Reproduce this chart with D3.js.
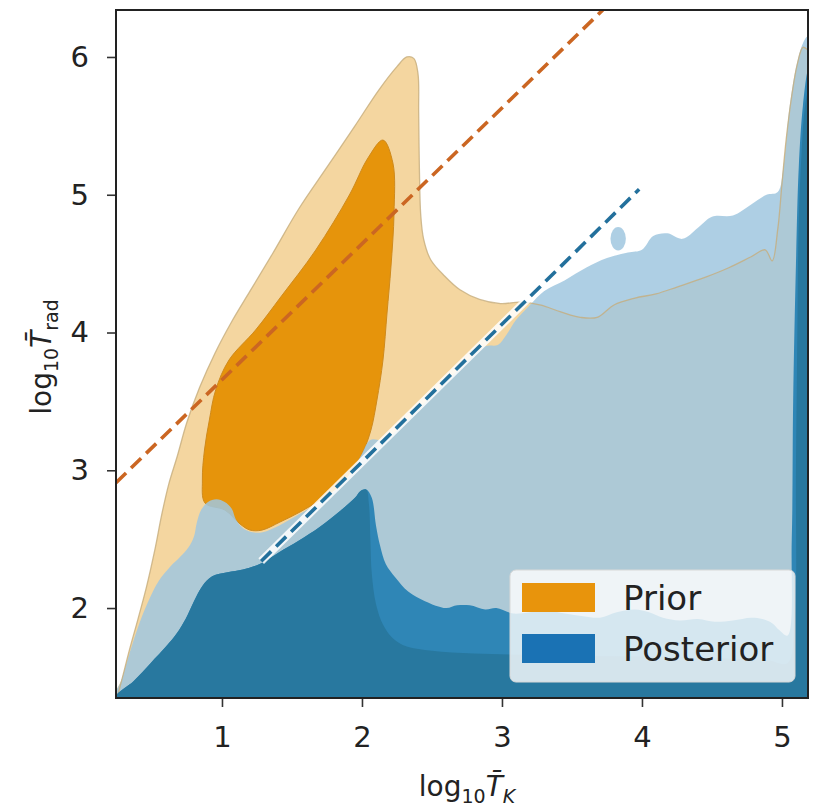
<!DOCTYPE html>
<html>
<head>
<meta charset="utf-8">
<script src="https://cdn.jsdelivr.net/npm/d3@7"></script>
<style>
  html, body { margin: 0; padding: 0; background: #ffffff; }
  svg { display: block; }
  text { font-family: "DejaVu Sans", sans-serif; }
</style>
</head>
<body>
<svg id="chart" width="818" height="806"></svg>
<script>
// Axis ranges and ticks (log10 of kinetic and radiation temperatures)
const xDomain = [0.243, 5.186];
const yDomain = [1.347, 6.341];
const xTicks = [1, 2, 3, 4, 5];
const yTicks = [2, 3, 4, 5, 6];

// Prior: outer (95%) and inner (68%) credible contours, as [log10 T_K, log10 T_rad]
const priorOuter = [
  [0.25,1.347],[0.29,1.5],[0.34,1.7],[0.4,1.92],[0.46,2.15],[0.52,2.42],[0.57,2.68],[0.62,2.9],
  [0.68,3.1],[0.75,3.35],[0.84,3.6],[0.95,3.85],[1.07,4.08],[1.2,4.3],[1.36,4.57],[1.55,4.9],
  [1.75,5.2],[1.95,5.5],[2.12,5.76],[2.25,5.93],[2.32,6.0],[2.37,5.99],[2.4,5.88],[2.405,5.6],
  [2.41,5.2],[2.42,4.85],[2.44,4.68],[2.49,4.53],[2.59,4.41],[2.7,4.31],[2.84,4.24],[2.99,4.21],
  [3.13,4.22],[3.27,4.2],[3.42,4.15],[3.56,4.11],[3.68,4.11],[3.8,4.2],[3.95,4.25],[4.1,4.28],
  [4.25,4.33],[4.45,4.4],[4.62,4.47],[4.78,4.55],[4.88,4.6],[4.93,4.52],[4.97,4.75],[5.0,5.08],
  [5.03,5.4],[5.07,5.72],[5.11,5.95],[5.15,6.07],[5.186,6.05],[5.186,1.347]
];
const priorInner = [
  [2.15,5.397],[2.221,5.23],[2.229,4.868],[2.207,4.476],[2.179,4.142],[2.15,3.8],[2.107,3.51],
  [2.064,3.292],[2.007,3.133],[1.929,3.002],[1.843,2.893],[1.7,2.784],[1.557,2.697],[1.414,2.624],
  [1.286,2.566],[1.2,2.566],[1.129,2.61],[1.021,2.711],[0.879,2.762],[0.86,2.929],[0.875,3.147],
  [0.91,3.365],[0.955,3.583],[1.05,3.8],[1.24,4.018],[1.42,4.258],[1.67,4.599],[1.91,4.998],
  [2.043,5.267]
];

// Posterior: outer (95%) contour, a detached island, inner (68%) contour and its densest core
const posteriorOuter = [
  [0.243,1.347],[0.28,1.47],[0.33,1.64],[0.4,1.86],[0.47,2.04],[0.55,2.2],[0.63,2.3],[0.7,2.37],
  [0.76,2.44],[0.8,2.52],[0.82,2.62],[0.85,2.71],[0.9,2.77],[0.96,2.79],[1.02,2.77],[1.07,2.72],
  [1.1,2.64],[1.15,2.58],[1.22,2.55],[1.29,2.55],[1.41,2.6],[1.55,2.68],[1.7,2.77],[1.84,2.88],
  [1.93,2.99],[2.0,3.12],[2.06,3.22],[2.16,3.22],[2.3,3.34],[2.45,3.49],[2.6,3.64],[2.75,3.79],
  [2.88,3.9],[2.97,3.91],[3.03,3.98],[3.1,4.09],[3.2,4.2],[3.3,4.3],[3.45,4.38],[3.6,4.47],
  [3.75,4.54],[3.9,4.58],[4.0,4.6],[4.08,4.7],[4.18,4.72],[4.29,4.68],[4.4,4.76],[4.5,4.84],
  [4.65,4.85],[4.78,4.93],[4.89,5.0],[4.97,5.02],[5.01,5.2],[5.05,5.6],[5.1,5.92],[5.15,6.1],
  [5.186,6.15],[5.186,1.347]
];
const posteriorIsland = { x: 3.83, y: 4.68, rx: 0.055, ry: 0.085 };
const posteriorInner = [
  [0.243,1.347],[0.37,1.47],[0.49,1.6],[0.6,1.72],[0.68,1.82],[0.74,1.92],[0.8,2.05],[0.86,2.16],
  [0.93,2.23],[1.04,2.26],[1.15,2.28],[1.27,2.32],[1.4,2.4],[1.55,2.49],[1.7,2.59],[1.85,2.71],
  [1.95,2.8],[1.99,2.85],[2.03,2.86],[2.07,2.8],[2.1,2.6],[2.13,2.45],[2.17,2.32],[2.24,2.22],
  [2.33,2.12],[2.45,2.05],[2.6,2.0],[2.68,2.02],[2.77,2.02],[2.88,1.99],[2.96,2.0],[3.08,1.96],
  [3.2,1.97],[3.32,1.98],[3.45,1.96],[3.58,1.94],[3.7,1.93],[3.82,1.97],[3.95,1.99],[4.05,1.97],
  [4.15,1.93],[4.27,1.91],[4.4,1.92],[4.52,1.9],[4.65,1.91],[4.78,1.93],[4.86,1.92],[4.93,1.89],
  [4.98,1.84],[5.04,1.8],[5.07,2.5],[5.08,3.5],[5.1,4.5],[5.12,5.2],[5.15,5.65],[5.186,5.9],
  [5.186,1.347]
];
const posteriorCore = [
  [0.243,1.347],[0.37,1.47],[0.49,1.6],[0.6,1.72],[0.68,1.82],[0.74,1.92],[0.8,2.05],[0.86,2.16],
  [0.93,2.23],[1.04,2.26],[1.15,2.28],[1.27,2.32],[1.4,2.4],[1.55,2.49],[1.7,2.59],[1.85,2.71],
  [1.95,2.8],[1.99,2.85],[2.03,2.86],[2.05,2.75],[2.06,2.5],[2.07,2.25],[2.1,2.03],[2.15,1.88],
  [2.22,1.78],[2.32,1.72],[2.5,1.69],[2.8,1.67],[3.2,1.66],[3.8,1.65],[4.4,1.64],[4.9,1.62],
  [5.04,1.6],[5.09,1.9],[5.1,3.0],[5.11,4.0],[5.12,4.8],[5.14,5.3],[5.16,5.6],[5.186,5.75],
  [5.186,1.347]
];

// Reference relations drawn as dashed lines: [start, end]
const priorLine = [[0.243, 2.91], [3.72, 6.341]];
const posteriorLine = [[1.28, 2.34], [3.98, 5.04]];

// Legend entries
const legendLabels = ["Prior", "Posterior"];
const legendColors = ["#e8940c", "#1a72b4"];

const svg = d3.select("#chart");
const margin = { left: 116, right: 10, top: 10, bottom: 108 };
const W = 818, H = 806;

const x = d3.scaleLinear().domain(xDomain).range([margin.left, W - margin.right]);
const y = d3.scaleLinear().domain(yDomain).range([H - margin.bottom, margin.top]);

svg.append("defs").append("clipPath").attr("id", "plot-clip")
  .append("rect")
  .attr("x", x(xDomain[0])).attr("y", y(yDomain[1]))
  .attr("width", x(xDomain[1]) - x(xDomain[0]))
  .attr("height", y(yDomain[0]) - y(yDomain[1]));

const area = svg.append("g").attr("clip-path", "url(#plot-clip)");

const shape = d3.line()
  .x(d => x(d[0])).y(d => y(d[1]))
  .curve(d3.curveCatmullRomClosed.alpha(0.5));
const edge = d3.line()
  .x(d => x(d[0])).y(d => y(d[1]))
  .curve(d3.curveCatmullRom.alpha(0.5));

// Prior contours
area.append("path").attr("d", shape(priorOuter)).attr("fill", "#f4d6a0");
area.append("path").attr("d", shape(priorInner))
  .attr("fill", "#e6940b").attr("stroke", "#cf8a1c").attr("stroke-width", 1);

// Posterior outer contour (semi-transparent so the prior shows through)
area.append("path").attr("d", shape(posteriorOuter))
  .attr("fill", "rgb(160,199,223)").attr("fill-opacity", 0.85);
area.append("ellipse")
  .attr("cx", x(posteriorIsland.x)).attr("cy", y(posteriorIsland.y))
  .attr("rx", x(posteriorIsland.x + posteriorIsland.rx) - x(posteriorIsland.x))
  .attr("ry", y(posteriorIsland.y) - y(posteriorIsland.y + posteriorIsland.ry))
  .attr("fill", "rgb(160,199,223)").attr("fill-opacity", 0.85);

// Edge of the prior outer contour, visible through the posterior
area.append("path").attr("d", edge(priorOuter.slice(0, -1)))
  .attr("fill", "none").attr("stroke", "#c6ad7c")
  .attr("stroke-width", 1.3).attr("stroke-opacity", 0.8);

// Posterior inner contour and core
area.append("path").attr("d", shape(posteriorInner)).attr("fill", "#2f86b6");
area.append("path").attr("d", shape(posteriorCore)).attr("fill", "#28789f");

// Dashed reference lines
const seg = d3.line().x(d => x(d[0])).y(d => y(d[1]));
area.append("path").attr("d", seg(priorLine))
  .attr("fill", "none").attr("stroke", "#cb6622")
  .attr("stroke-width", 3.6).attr("stroke-dasharray", "14,7");
area.append("path").attr("d", seg(posteriorLine))
  .attr("fill", "none").attr("stroke", "#ffffff")
  .attr("stroke-width", 8).attr("stroke-opacity", 0.85);
area.append("path").attr("d", seg(posteriorLine))
  .attr("fill", "none").attr("stroke", "#23709c")
  .attr("stroke-width", 3.6).attr("stroke-dasharray", "14,7");

// Axes
const xAxis = svg.append("g")
  .attr("transform", `translate(0,${y(yDomain[0])})`)
  .call(d3.axisBottom(x).tickValues(xTicks).tickFormat(d3.format("d")).tickSize(9).tickPadding(19));
const yAxis = svg.append("g")
  .attr("transform", `translate(${x(xDomain[0])},0)`)
  .call(d3.axisLeft(y).tickValues(yTicks).tickFormat(d3.format("d")).tickSize(9).tickPadding(18));
[xAxis, yAxis].forEach(g => {
  g.select(".domain").remove();
  g.selectAll(".tick line").attr("stroke", "#333").attr("stroke-width", 1.6);
  g.selectAll(".tick text").attr("fill", "#222").style("font-size", "29px")
    .style("font-family", "'DejaVu Sans', sans-serif");
});

// Frame
svg.append("rect")
  .attr("x", x(xDomain[0])).attr("y", y(yDomain[1]))
  .attr("width", x(xDomain[1]) - x(xDomain[0]))
  .attr("height", y(yDomain[0]) - y(yDomain[1]))
  .attr("fill", "none").attr("stroke", "#222").attr("stroke-width", 2);

// Axis titles
function mathLabel(g, subA, subB, italicB) {
  const t = g.append("text").attr("text-anchor", "middle").attr("fill", "#222")
    .style("font-size", "28px");
  t.append("tspan").text("log");
  t.append("tspan").attr("dy", 7).style("font-size", "19px").text(subA);
  t.append("tspan").attr("dy", -7).style("font-style", "italic").text("T\u0304");
  t.append("tspan").attr("dy", 7).style("font-size", "19px")
    .style("font-style", italicB ? "italic" : "normal").text(subB);
  return t;
}
mathLabel(svg.append("g").attr("transform", "translate(467,796)"), "10", "K", true);
mathLabel(svg.append("g").attr("transform", "translate(51,357) rotate(-90)"), "10", "rad", false);

// Legend
const legend = svg.append("g").attr("transform", "translate(510,570)");
legend.append("rect").attr("width", 285).attr("height", 112).attr("rx", 6)
  .attr("fill", "#ffffff").attr("fill-opacity", 0.8)
  .attr("stroke", "#d8d8d8").attr("stroke-width", 1);
legendLabels.forEach((lab, i) => {
  const row = legend.append("g").attr("transform", `translate(12,${13 + i * 51})`);
  row.append("rect").attr("width", 73).attr("height", 29).attr("fill", legendColors[i]);
  row.append("text").attr("x", 101).attr("y", 27).attr("fill", "#222")
    .style("font-size", "34px").text(lab);
});
</script>
</body>
</html>
